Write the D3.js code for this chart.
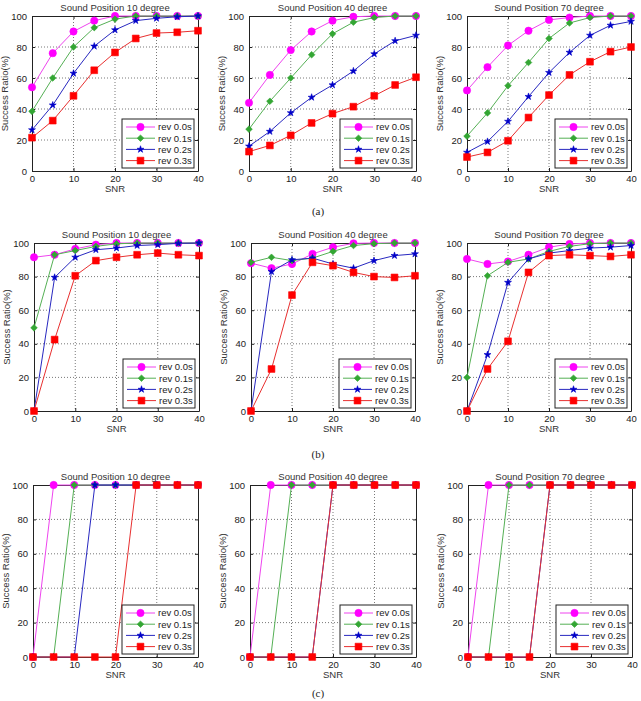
<!DOCTYPE html>
<html>
<head>
<meta charset="utf-8">
<script src="https://cdn.jsdelivr.net/npm/d3@7"></script>
<style>
  body { margin: 0; background: #fff; }
  svg { display: block; font-family: "Liberation Sans", Arial, sans-serif; }
</style>
</head>
<body>
<div id="chart"></div>
<script>
const snr = [0, 5, 10, 15, 20, 25, 30, 35, 40]
const seriesNames = ['rev 0.0s', 'rev 0.1s', 'rev 0.2s', 'rev 0.3s']
const angles = ['10', '40', '70']
const captions = ['(a)', '(b)', '(c)']
const yTicks = [0, 20, 40, 60, 80, 100]
const xTicks = [0, 10, 20, 30, 40]

// (a)
const a10_rev00 = [54, 76, 90, 97, 100, 100, 100, 100, 100]
const a10_rev01 = [38.5, 60, 80, 92.5, 98, 100, 100, 100, 100]
const a10_rev02 = [26.5, 42.5, 63, 80.5, 91, 97, 98.5, 99.5, 100]
const a10_rev03 = [21.5, 32.5, 48.5, 65, 76.5, 85.5, 89, 89.5, 90.5]

const a40_rev00 = [44, 62, 78, 90, 97, 99.5, 100, 100, 100]
const a40_rev01 = [27, 45, 60, 75, 88.5, 96, 99, 100, 100]
const a40_rev02 = [16, 25.5, 37.5, 47.5, 55.5, 64.5, 75.5, 84, 87.5]
const a40_rev03 = [12.5, 16.5, 23, 31, 37, 41.5, 48.5, 55.5, 60.5]

const a70_rev00 = [52, 67, 81, 90.5, 97.5, 99, 100, 100, 100]
const a70_rev01 = [22.5, 37.5, 55, 70, 85.5, 95.5, 99, 100, 100]
const a70_rev02 = [12, 19, 32, 48, 63.5, 76.5, 87.5, 94, 96.5]
const a70_rev03 = [9, 12, 19.5, 34.5, 49, 62, 70.5, 77, 80]

// (b)
const b10_rev00 = [91.5, 93, 96.5, 99, 100, 100, 100, 100, 100]
const b10_rev01 = [49.5, 93, 95.5, 98, 99.5, 100, 100, 100, 100]
const b10_rev02 = [0, 79.5, 91.5, 96, 97, 98.5, 99, 99.8, 100]
const b10_rev03 = [0, 42.5, 80.5, 89.5, 91.5, 93, 94, 93, 92.5]

const b40_rev00 = [88, 85, 87.5, 93.5, 97.5, 99.8, 100, 100, 100]
const b40_rev01 = [88.5, 91.5, 89.5, 91, 95, 98.5, 99.6, 100, 100]
const b40_rev02 = [0, 83, 90, 91, 87.5, 85, 89.5, 92.5, 93.5]
const b40_rev03 = [0, 25, 69, 88.5, 86.5, 82.5, 80, 79.5, 80.5]

const b70_rev00 = [90.5, 87.5, 89, 93, 97.5, 99.4, 100, 100, 100]
const b70_rev01 = [20, 80.5, 88.5, 90.5, 95, 98, 99.6, 100, 100]
const b70_rev02 = [0, 33.5, 76.5, 90.5, 94, 95.5, 97, 97.5, 98.5]
const b70_rev03 = [0, 25, 41.5, 82.5, 92.5, 93, 92.5, 92, 93]

// (c)
const c10_rev00 = [0, 100, 100, 100, 100, 100, 100, 100, 100]
const c10_rev01 = [0, 0, 100, 100, 100, 100, 100, 100, 100]
const c10_rev02 = [0, 0, 0, 100, 100, 100, 100, 100, 100]
const c10_rev03 = [0, 0, 0, 0, 0, 100, 100, 100, 100]

const c40_rev00 = [0, 100, 100, 100, 100, 100, 100, 100, 100]
const c40_rev01 = [0, 0, 100, 100, 100, 100, 100, 100, 100]
const c40_rev02 = [0, 0, 0, 0, 100, 100, 100, 100, 100]
const c40_rev03 = [0, 0, 0, 0, 100, 100, 100, 100, 100]

const c70_rev00 = [0, 100, 100, 100, 100, 100, 100, 100, 100]
const c70_rev01 = [0, 0, 100, 100, 100, 100, 100, 100, 100]
const c70_rev02 = [0, 0, 0, 0, 100, 100, 100, 100, 100]
const c70_rev03 = [0, 0, 0, 0, 100, 100, 100, 100, 100]

const panelData = [
  [[a10_rev00, a10_rev01, a10_rev02, a10_rev03],
   [a40_rev00, a40_rev01, a40_rev02, a40_rev03],
   [a70_rev00, a70_rev01, a70_rev02, a70_rev03]],
  [[b10_rev00, b10_rev01, b10_rev02, b10_rev03],
   [b40_rev00, b40_rev01, b40_rev02, b40_rev03],
   [b70_rev00, b70_rev01, b70_rev02, b70_rev03]],
  [[c10_rev00, c10_rev01, c10_rev02, c10_rev03],
   [c40_rev00, c40_rev01, c40_rev02, c40_rev03],
   [c70_rev00, c70_rev01, c70_rev02, c70_rev03]]
]

const W = 641, H = 701

// plot boxes: [top, bottom] per row, [left, right] per row/column
const rowY = [[16, 171], [243, 411], [485, 657]]
const colX = [
  [[32, 198], [249, 416], [467, 631]],
  [[34, 199], [251, 415], [467, 631]],
  [[33, 198], [250, 416], [468, 632]]
]
const captionY = [215, 458, 697]

const styles = [
  { color: '#ff00ff', line: '#ee44ee', sym: d3.symbolCircle, size: 42 },
  { color: '#33a633', line: '#55b055', sym: d3.symbolDiamond2, size: 28 },
  { color: '#0000c8', line: '#2828c0', sym: d3.symbolStar, size: 15 },
  { color: '#ff0000', line: '#e83030', sym: d3.symbolSquare, size: 46 }
]

const svg = d3.select('#chart').append('svg')
  .attr('width', W)
  .attr('height', H)

function drawPanel(r, c) {
  const [x0, x1] = colX[r][c]
  const [y0, y1] = rowY[r]
  const x = d3.scaleLinear().domain([0, 40]).range([x0, x1])
  const y = d3.scaleLinear().domain([0, 100]).range([y1, y0])
  const g = svg.append('g')

  g.append('rect')
    .attr('x', x0).attr('y', y0)
    .attr('width', x1 - x0).attr('height', y1 - y0)
    .attr('fill', '#fff')

  // dotted grid
  g.selectAll('.gx').data(xTicks.slice(1, -1)).join('line')
    .attr('x1', d => x(d)).attr('x2', d => x(d))
    .attr('y1', y0).attr('y2', y1)
    .attr('stroke', '#555').attr('stroke-width', 0.8)
    .attr('stroke-dasharray', '1,2')
  g.selectAll('.gy').data(yTicks.slice(1, -1)).join('line')
    .attr('y1', d => y(d)).attr('y2', d => y(d))
    .attr('x1', x0).attr('x2', x1)
    .attr('stroke', '#555').attr('stroke-width', 0.8)
    .attr('stroke-dasharray', '1,2')

  // axes with inward ticks
  const axB = g.append('g').attr('transform', `translate(0,${y1})`)
    .call(d3.axisBottom(x).tickValues(xTicks).tickSizeInner(-3).tickSizeOuter(0).tickPadding(5))
  const axT = g.append('g').attr('transform', `translate(0,${y0})`)
    .call(d3.axisTop(x).tickValues(xTicks).tickSizeInner(-3).tickSizeOuter(0).tickFormat(''))
  const axL = g.append('g').attr('transform', `translate(${x0},0)`)
    .call(d3.axisLeft(y).tickValues(yTicks).tickSizeInner(-3).tickSizeOuter(0).tickPadding(5))
  const axR = g.append('g').attr('transform', `translate(${x1},0)`)
    .call(d3.axisRight(y).tickValues(yTicks).tickSizeInner(-3).tickSizeOuter(0).tickFormat(''))
  for (const ax of [axB, axT, axL, axR]) {
    ax.select('.domain').attr('stroke', '#222')
    ax.selectAll('line').attr('stroke', '#222')
    ax.selectAll('text').attr('font-size', 9.5).attr('fill', '#222')
      .attr('font-family', '"Liberation Sans", Arial, sans-serif')
  }
  axB.selectAll('text').attr('dy', '0.6em')

  // series
  const line = d3.line().x((d, i) => x(snr[i])).y(d => y(d))
  panelData[r][c].forEach((vals, k) => {
    const st = styles[k]
    g.append('path').datum(vals)
      .attr('d', line)
      .attr('fill', 'none')
      .attr('stroke', st.line)
      .attr('stroke-width', 1)
    g.selectAll(null).data(vals).join('path')
      .attr('transform', (d, i) => `translate(${x(snr[i])},${y(d)})`)
      .attr('d', d3.symbol(st.sym, st.size))
      .attr('fill', st.color)
      .attr('stroke', st.color)
      .attr('stroke-width', 0.6)
  })

  // title and labels
  g.append('text')
    .attr('x', (x0 + x1) / 2).attr('y', y0 - 5)
    .attr('text-anchor', 'middle')
    .attr('font-size', 9.5).attr('fill', '#333')
    .text(`Sound Position ${angles[c]} degree`)
  g.append('text')
    .attr('x', (x0 + x1) / 2).attr('y', y1 + 21)
    .attr('text-anchor', 'middle')
    .attr('font-size', 9.5).attr('fill', '#333')
    .text('SNR')
  g.append('text')
    .attr('transform', `translate(${x0 - 24},${(y0 + y1) / 2}) rotate(-90)`)
    .attr('text-anchor', 'middle')
    .attr('font-size', 9.5).attr('fill', '#333')
    .text('Success Ratio(%)')

  // legend
  const lw = 72, lh = 49
  const lx = x1 - lw - 4, ly = y1 - lh - 3
  const lg = g.append('g').attr('transform', `translate(${lx},${ly})`)
  lg.append('rect').attr('width', lw).attr('height', lh)
    .attr('fill', '#fff').attr('stroke', '#222').attr('stroke-width', 1)
  seriesNames.forEach((name, k) => {
    const st = styles[k]
    const ry = 8 + k * 11.2
    lg.append('line').attr('x1', 4).attr('x2', 33).attr('y1', ry).attr('y2', ry)
      .attr('stroke', st.line).attr('stroke-width', 1)
    lg.append('path').attr('transform', `translate(18.5,${ry})`)
      .attr('d', d3.symbol(st.sym, st.size))
      .attr('fill', st.color).attr('stroke', st.color).attr('stroke-width', 0.6)
    lg.append('text').attr('x', 36).attr('y', ry).attr('dy', '0.35em')
      .attr('font-size', 9.5).attr('fill', '#222')
      .text(name)
  })
}

for (let r = 0; r < 3; r++) {
  for (let c = 0; c < 3; c++) drawPanel(r, c)
  svg.append('text')
    .attr('x', 318).attr('y', captionY[r])
    .attr('text-anchor', 'middle')
    .attr('font-family', '"Liberation Serif", "Times New Roman", serif')
    .attr('font-size', 11).attr('fill', '#222')
    .text(captions[r])
}
</script>
</body>
</html>
